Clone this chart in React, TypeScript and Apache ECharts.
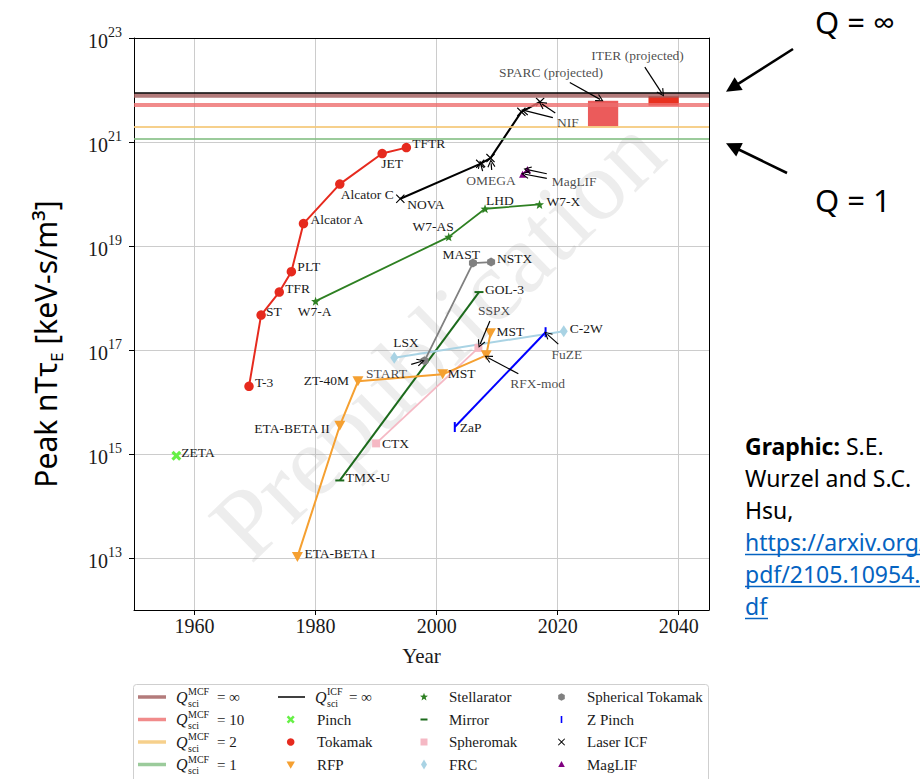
import React, { useEffect, useRef } from "react";
import * as echarts from "echarts";

const SERIF = "'Liberation Serif','DejaVu Serif',serif";
const SANS = "'Noto Sans','Open Sans',sans-serif";
const INK = "#1a1a1a";

// ---------------- data ----------------
const xTicks = [1960, 1980, 2000, 2020, 2040];
const yTicks = [1e13, 1e15, 1e17, 1e19, 1e21, 1e23];

const tokamakNames = ["T-3", "ST", "TFR", "PLT", "Alcator A", "Alcator C", "JET", "TFTR"];
const tokamakYears = [1969, 1971, 1974, 1976, 1978, 1984, 1991, 1995];
const tokamakValues = [2.0e16, 4.7e17, 1.3e18, 3.2e18, 2.7e19, 1.55e20, 6.0e20, 7.8e20];

const icfNames = ["NOVA", "", "", "", ""];
const icfYears = [1994, 2007.2, 2008.9, 2014, 2017.1];
const icfValues = [8.1e19, 3.8e20, 4.9e20, 3.8e21, 5.9e21];

const maglifNames = ["", ""];
const maglifYears = [2014.2, 2015];
const maglifValues = [2.4e20, 2.95e20];

const stellNames = ["W7-A", "W7-AS", "LHD", "W7-X"];
const stellYears = [1980, 2002, 2008, 2017];
const stellValues = [8.7e17, 1.5e19, 5.2e19, 6.3e19];

const sphTokNames = ["", "MAST", "NSTX"];
const sphTokYears = [1998, 2006, 2009];
const sphTokValues = [6.2e16, 4.7e18, 4.9e18];

const mirrorNames = ["TMX-U", "GOL-3"];
const mirrorYears = [1984, 2007];
const mirrorValues = [3.1e14, 1.3e18];

const spheromakNames = ["CTX", ""];
const spheromakYears = [1990, 2006.9];
const spheromakValues = [1.6e15, 1.1e17];

const frcNames = ["LSX", "C-2W"];
const frcYears = [1993, 2021];
const frcValues = [7.1e16, 2.3e17];

const zpinchNames = ["ZaP", ""];
const zpinchYears = [2003, 2018];
const zpinchValues = [3.3e15, 2.2e17];

const rfpNames = ["ETA-BETA I", "ETA-BETA II", "ZT-40M", "MST", "", "MST"];
const rfpYears = [1977, 1984, 1987, 2001, 2008.2, 2008.9];
const rfpValues = [1.05e13, 3.5e15, 2.5e16, 3.4e16, 7.9e16, 2.1e17];

const pinchNames = ["ZETA"];
const pinchYears = [1957];
const pinchValues = [9.3e14];

// reference lines (peak n T tau_E)
const qMcfLabels = ["= \u221E", "= 10", "= 2", "= 1"];
const qMcfValues = [8.1e21, 5.1e21, 2.0e21, 1.15e21];
const qIcfValue = 8.9e21;

// projected devices (year range, value range)
const projectedNames = ["SPARC", "ITER"];
const projectedYears = [[2025, 2030], [2035, 2040]];
const projectedValues = [[2.0e21, 6.2e21], [5.0e21, 7.6e21]];

// annotations with arrows
const annoTexts = ["ITER (projected)", "SPARC (projected)", "NIF", "OMEGA", "MagLIF", "SSPX", "RFX-mod", "FuZE", "START"];
const annoYears = [2033.2, 2018.9, 2019.9, 2009.0, 2019.0, 2009.5, 2016.7, 2021.5, 1995.1];
const annoValues = [4.7e22, 2.2e22, 2.4e21, 1.8e20, 1.75e20, 5.8e17, 2.3e16, 8.1e16, 3.6e16];
const arrowFrom = [
  [2034.4, 2.75e22], [2022.0, 1.4e22], [2019.2, 2.95e21], [2019.6, 3.6e21],
  [2007.6, 2.75e20], [2009.1, 2.9e20], [2018.2, 2.45e20], [2018.2, 2.0e20],
  [2008.8, 3.6e17], [2013.5, 3.5e16], [2020.1, 1.3e17], [1995.8, 5.3e16],
];
const arrowTo = [
  [2037.2, 8.7e21], [2027.0, 6.6e21], [2014.6, 4.0e21], [2017.4, 5.4e21],
  [2007.3, 3.7e20], [2009.0, 3.9e20], [2015.0, 2.95e20], [2014.6, 2.4e20],
  [2007.2, 1.3e17], [2008.5, 7.1e16], [2018.3, 2.0e17], [1997.4, 6.0e16],
];

// ---------------- label placement (style, not data) ----------------
type LP = [string, number, number] | null;
const tokamakLP: LP[] = [["left", 6, -4], ["left", 5, -4], ["left", 6, -4], ["left", 6, -5], ["left", 7, -4], ["left", 1, 10], ["left", -1, 10], ["left", 6, -4]];
const icfLP: LP[] = [["left", 7, 6], null, null, null, null];
const stellLP: LP[] = [["center", -1, 10], ["right", 5, -10], ["left", 1, -8], ["left", 7, -3]];
const sphTokLP: LP[] = [null, ["right", 7, -9], ["left", 6, -4]];
const mirrorLP: LP[] = [["left", 6, -3], ["left", 6, -3]];
const spheromakLP: LP[] = [["left", 6, 0], null];
const frcLP: LP[] = [["left", -1, -15], ["left", 6, -3]];
const zpinchLP: LP[] = [["left", 5, 0], null];
const rfpLP: LP[] = [["left", 7, -3], ["right", -10, 3], ["right", -9, -1], ["left", 5, -1], null, ["left", 6, -2]];
const pinchLP: LP[] = [["left", 5, -3]];
const annoAlign = ["center", "center", "left", "center", "left", "center", "center", "center", "right"];

// ---------------- marker shapes ----------------
const starPts = Array.from({ length: 10 }, (_, i) => {
  const r = i % 2 ? 0.42 : 1;
  const a = -Math.PI / 2 + (i * Math.PI) / 5;
  return [r * Math.cos(a), r * Math.sin(a)];
});
const hexPts = [[0, -1], [0.866, -0.5], [0.866, 0.5], [0, 1], [-0.866, 0.5], [-0.866, -0.5]];
const xThinPts = [[-1, -0.82], [-0.82, -1], [0, -0.18], [0.82, -1], [1, -0.82], [0.18, 0], [1, 0.82], [0.82, 1], [0, 0.18], [-0.82, 1], [-1, 0.82], [-0.18, 0]];
const xThickPts = [[-1, -0.55], [-0.55, -1], [0, -0.45], [0.55, -1], [1, -0.55], [0.45, 0], [1, 0.55], [0.55, 1], [0, 0.45], [-0.55, 1], [-1, 0.55], [-0.45, 0]];
const chevronPts = [[0, 0], [0.5, 0.9], [0.38, 0.97], [0, 0.26], [-0.38, 0.97], [-0.5, 0.9]];
const triUpPts = [[0, -1], [0.95, 0.7], [-0.95, 0.7]];
const triDownPts = [[-1, -0.7], [1, -0.7], [0, 1]];
const diamondPts = [[0, -1], [0.6, 0], [0, 1], [-0.6, 0]];

const toPath = (pts: number[][]) =>
  "path://" + pts.map((p, i) => (i ? "L" : "M") + p[0].toFixed(3) + "," + p[1].toFixed(3)).join(" ") + " Z";
const toPoly = (pts: number[][], cx: number, cy: number, s: number) => pts.map((p) => [cx + p[0] * s, cy + p[1] * s]);

const C = {
  tokamak: "#e62a1e",
  icf: "#000000",
  maglif: "#800080",
  stell: "#2e8022",
  sphTok: "#808080",
  mirror: "#1c6a1c",
  spheromak: "#f5b8c4",
  frc: "#a9d3e4",
  zpinch: "#0000ff",
  rfp: "#f5a031",
  pinch: "#66f046",
};

function mkLabel(text: string, lp: LP) {
  if (!text || !lp) return { show: false };
  return {
    show: true,
    formatter: text,
    position: "inside",
    align: lp[0],
    verticalAlign: "middle",
    offset: [lp[1], lp[2]],
    color: INK,
    fontFamily: SERIF,
    fontSize: 13.5,
  };
}

function dataSeries(name: string, years: number[], values: number[], labels: string[], lps: LP[], st: any) {
  return {
    type: "line",
    name,
    data: years.map((yr, i) => ({ value: [yr, values[i]], label: mkLabel(labels[i], lps[i]) })),
    symbol: st.symbol,
    symbolSize: st.size,
    symbolRotate: st.rotate || 0,
    showSymbol: true,
    showAllSymbol: true,
    itemStyle: { color: st.color, opacity: 1 },
    lineStyle: { color: st.color, width: st.width ?? 1.8 },
    emphasis: { disabled: true },
    silent: true,
    clip: false,
    z: st.z ?? 3,
  };
}

function buildOption() {
  const series: any[] = [];

  const qColors = ["rgba(160,90,90,0.8)", "rgba(238,110,110,0.8)", "rgba(245,200,120,0.85)", "rgba(130,190,130,0.8)"];
  const qWidths = [4.5, 4, 2, 2];
  series.push({
    type: "line",
    name: "reference",
    data: [[1950, 1e12]],
    symbol: "none",
    lineStyle: { width: 0 },
    silent: true,
    z: 1,
    markLine: {
      silent: true,
      symbol: ["none", "none"],
      label: { show: false },
      data: [
        ...qMcfValues.map((v, i) => ({ yAxis: v, lineStyle: { color: qColors[i], width: qWidths[i], type: "solid" } })),
        { yAxis: qIcfValue, lineStyle: { color: "#000", width: 1.5, type: "solid" } },
      ],
    },
    markArea: {
      silent: true,
      data: projectedNames.map((_, i) => [
        {
          coord: [projectedYears[i][0], projectedValues[i][0]],
          itemStyle: { color: i === 0 ? "rgba(230,45,45,0.78)" : "#e8311f", borderWidth: 0 },
        },
        { coord: [projectedYears[i][1], projectedValues[i][1]] },
      ]),
    },
  });

  series.push(dataSeries("Pinch", pinchYears, pinchValues, pinchNames, pinchLP, { symbol: toPath(xThickPts), size: 10, color: C.pinch }));
  series.push(dataSeries("Mirror", mirrorYears, mirrorValues, mirrorNames, mirrorLP, { symbol: "rect", size: [9, 2], color: C.mirror, width: 2 }));
  series.push(dataSeries("Spheromak", spheromakYears, spheromakValues, spheromakNames, spheromakLP, { symbol: "rect", size: 8, color: C.spheromak }));
  series.push(dataSeries("FRC", frcYears, frcValues, frcNames, frcLP, { symbol: toPath(diamondPts), size: [8, 12], color: C.frc, width: 2 }));
  series.push(dataSeries("Spherical Tokamak", sphTokYears, sphTokValues, sphTokNames, sphTokLP, { symbol: toPath(hexPts), size: [8, 9], color: C.sphTok }));
  series.push(dataSeries("Z Pinch", zpinchYears, zpinchValues, zpinchNames, zpinchLP, { symbol: "rect", size: [2, 10], color: C.zpinch, width: 2 }));
  series.push(dataSeries("RFP", rfpYears, rfpValues, rfpNames, rfpLP, { symbol: toPath(triDownPts), size: [11, 10], color: C.rfp, width: 2 }));
  series.push(dataSeries("Stellarator", stellYears, stellValues, stellNames, stellLP, { symbol: toPath(starPts), size: 9, color: C.stell }));
  series.push(dataSeries("Tokamak", tokamakYears, tokamakValues, tokamakNames, tokamakLP, { symbol: "circle", size: 9.5, color: C.tokamak, width: 2 }));
  series.push(dataSeries("Laser ICF", icfYears, icfValues, icfNames, icfLP, { symbol: toPath(xThinPts), size: 9, color: C.icf, width: 2 }));
  series.push(dataSeries("MagLIF", maglifYears, maglifValues, maglifNames, [null, null], { symbol: toPath(triUpPts), size: 7, color: C.maglif, width: 1.5 }));

  series.push({
    type: "scatter",
    name: "annotations",
    data: annoTexts.map((t, i) => ({
      value: [annoYears[i], annoValues[i]],
      label: {
        show: true,
        formatter: t,
        position: "inside",
        align: annoAlign[i],
        verticalAlign: "middle",
        color: INK,
        fontFamily: SERIF,
        fontSize: 13.5,
      },
    })),
    symbol: "circle",
    symbolSize: 1,
    itemStyle: { color: "rgba(0,0,0,0)" },
    silent: true,
    z: 6,
    markLine: {
      silent: true,
      symbol: ["none", toPath(chevronPts)],
      symbolSize: 8,
      label: { show: false },
      lineStyle: { color: "#000", width: 1.2, type: "solid" },
      data: arrowFrom.map((f, i) => [{ coord: f }, { coord: arrowTo[i] }]),
    },
  });

  // ---------------- graphic (watermark, titles, legend, slide notes) ----------------
  const el: any[] = [];
  el.push({
    type: "text",
    x: 437,
    y: 338,
    rotation: 0.77,
    z: 1,
    silent: true,
    style: { text: "Prepublication", fontFamily: SERIF, fontSize: 100, fill: "rgba(150,150,150,0.17)", align: "center", verticalAlign: "middle" },
  });
  el.push({
    type: "text",
    x: 45,
    y: 344,
    rotation: Math.PI / 2,
    style: {
      text: "{a|Peak nT\u03C4}{e|E}{a| [keV-s/m\u00B3]}",
      align: "center",
      verticalAlign: "middle",
      rich: {
        a: { fontFamily: SANS, fontSize: 30, fill: "#000", lineHeight: 40, verticalAlign: "middle" },
        e: { fontFamily: SANS, fontSize: 17, fill: "#000", lineHeight: 22, verticalAlign: "bottom" },
      },
    },
  });

  // legend
  const rows = [697, 719.5, 742, 764.5];
  el.push({ type: "rect", z: 10, shape: { x: 133.5, y: 684.5, width: 575, height: 110, r: 3 }, style: { fill: "#fff", stroke: "#cfcfcf", lineWidth: 1 } });
  const qLegColors = ["rgba(160,90,90,0.8)", "rgba(238,110,110,0.8)", "rgba(245,200,120,0.85)", "rgba(130,190,130,0.8)"];
  const qText = (x: number, y: number, sup: string, rhs: string, rhsX: number) => [
    { type: "text", z: 11, x, y, style: { text: "Q", fontFamily: SERIF, fontStyle: "italic", fontSize: 16, fill: INK, verticalAlign: "middle" } },
    { type: "text", z: 11, x: x + 12, y: y - 5.5, style: { text: sup, fontFamily: SERIF, fontSize: 10, fill: INK, verticalAlign: "middle" } },
    { type: "text", z: 11, x: x + 12, y: y + 6, style: { text: "sci", fontFamily: SERIF, fontSize: 10, fill: INK, verticalAlign: "middle" } },
    { type: "text", z: 11, x: rhsX, y, style: { text: rhs, fontFamily: SERIF, fontSize: 15, fill: INK, verticalAlign: "middle" } },
  ];
  qMcfLabels.forEach((lab, i) => {
    el.push({ type: "line", z: 11, shape: { x1: 138, y1: rows[i], x2: 166, y2: rows[i] }, style: { stroke: qLegColors[i], lineWidth: 3.5 } });
    el.push(...qText(176, rows[i], "MCF", lab, 217));
  });
  el.push({ type: "line", z: 11, shape: { x1: 278, y1: rows[0], x2: 305, y2: rows[0] }, style: { stroke: "#000", lineWidth: 1.5 } });
  el.push(...qText(315, rows[0], "ICF", "= \u221E", 349));

  const legMarker = (kind: string, cx: number, cy: number, color: string) => {
    switch (kind) {
      case "circle":
        return { type: "circle", z: 11, shape: { cx, cy, r: 3.8 }, style: { fill: color } };
      case "rect":
        return { type: "rect", z: 11, shape: { x: cx - 3.5, y: cy - 3.5, width: 7, height: 7 }, style: { fill: color } };
      case "dash":
        return { type: "rect", z: 11, shape: { x: cx - 3.5, y: cy - 1, width: 7, height: 2 }, style: { fill: color } };
      case "bar":
        return { type: "rect", z: 11, shape: { x: cx - 0.8, y: cy - 3.5, width: 1.6, height: 7 }, style: { fill: color } };
      default: {
        const m: any = { star: [starPts, 4.2], hex: [hexPts, 3.8], xthin: [xThinPts, 3.6], xthick: [xThickPts, 4], tridown: [triDownPts, 4.2], triup: [triUpPts, 3.5], diamond: [diamondPts, 5] };
        const [pts, s] = m[kind];
        return { type: "polygon", z: 11, shape: { points: toPoly(pts, cx, cy, s) }, style: { fill: color } };
      }
    }
  };
  const legendCols = [
    { mx: 290.7, tx: 317, items: [["Pinch", "xthick", C.pinch], ["Tokamak", "circle", C.tokamak], ["RFP", "tridown", C.rfp]], start: 1 },
    { mx: 424, tx: 449, items: [["Stellarator", "star", C.stell], ["Mirror", "dash", C.mirror], ["Spheromak", "rect", C.spheromak], ["FRC", "diamond", C.frc]], start: 0 },
    { mx: 561.5, tx: 587, items: [["Spherical Tokamak", "hex", C.sphTok], ["Z Pinch", "bar", C.zpinch], ["Laser ICF", "xthin", C.icf], ["MagLIF", "triup", C.maglif]], start: 0 },
  ];
  legendCols.forEach((col) => {
    col.items.forEach((it, j) => {
      const y = rows[col.start + j];
      el.push(legMarker(it[1], col.mx, y, it[2]));
      el.push({ type: "text", z: 11, x: col.tx, y, style: { text: it[0], fontFamily: SERIF, fontSize: 15, fill: INK, verticalAlign: "middle" } });
    });
  });

  // slide notes on the right
  const bigArrow = (x1: number, y1: number, x2: number, y2: number) => {
    const dx = x2 - x1, dy = y2 - y1, L = Math.hypot(dx, dy);
    const ux = dx / L, uy = dy / L, len = 15, hw = 7.5;
    const bx = x2 - ux * len, by = y2 - uy * len;
    return [
      { type: "line", shape: { x1, y1, x2: bx + ux * 2, y2: by + uy * 2 }, style: { stroke: "#000", lineWidth: 2.6 } },
      { type: "polygon", shape: { points: [[x2, y2], [bx - uy * hw, by + ux * hw], [bx + uy * hw, by - ux * hw]] }, style: { fill: "#000" } },
    ];
  };
  el.push({ type: "text", x: 815, y: 22, style: { text: "Q = \u221E", fontFamily: SANS, fontSize: 31, fill: "#000", verticalAlign: "middle" } });
  el.push({ type: "text", x: 815, y: 200, style: { text: "Q = 1", fontFamily: SANS, fontSize: 31, fill: "#000", verticalAlign: "middle" } });
  el.push(...bigArrow(793, 49, 726, 91.7));
  el.push(...bigArrow(787, 173, 726, 143.3));

  const noteX = 745;
  const noteY = [446, 478, 510, 542, 574, 606];
  el.push({
    type: "text",
    x: noteX,
    y: noteY[0],
    style: {
      text: "{b|Graphic:}{n| S.E.}",
      verticalAlign: "middle",
      rich: {
        b: { fontFamily: SANS, fontSize: 23, fontWeight: "bold", fill: "#000" },
        n: { fontFamily: SANS, fontSize: 23, fill: "#000" },
      },
    },
  });
  const plain = ["Wurzel and S.C.", "Hsu,"];
  plain.forEach((t, i) => el.push({ type: "text", x: noteX, y: noteY[1 + i], style: { text: t, fontFamily: SANS, fontSize: 23, fill: "#000", verticalAlign: "middle" } }));
  const link = ["https://arxiv.org/", "pdf/2105.10954.p", "df"];
  const linkEnds = [940, 940, 768];
  link.forEach((t, i) => {
    el.push({ type: "text", x: noteX, y: noteY[3 + i], style: { text: t, fontFamily: SANS, fontSize: 23, fill: "#0563c1", verticalAlign: "middle" } });
    el.push({ type: "line", shape: { x1: noteX, y1: noteY[3 + i] + 12.5, x2: linkEnds[i], y2: noteY[3 + i] + 12.5 }, style: { stroke: "#0563c1", lineWidth: 1.5 } });
  });

  const axisLineStyle = { show: true, onZero: false, lineStyle: { color: "#000", width: 1 } };
  const yMax = 1.000001e23;
  return {
    animation: false,
    backgroundColor: "#ffffff",
    grid: { left: 134, top: 38, right: 211, bottom: 169, containLabel: false },
    xAxis: [
      {
        type: "value",
        min: 1950,
        max: 2045,
        position: "bottom",
        axisLine: axisLineStyle,
        axisTick: { show: true, customValues: xTicks, length: 5, lineStyle: { color: "#000" } },
        axisLabel: { show: true, customValues: xTicks, margin: 6, color: INK, fontFamily: SERIF, fontSize: 20, formatter: (v: number) => String(Math.round(v)) },
        splitLine: { show: true, lineStyle: { color: "#cccccc", width: 1 } },
        name: "Year",
        nameLocation: "middle",
        nameGap: 35,
        nameTextStyle: { fontFamily: SERIF, fontSize: 21, color: INK },
      },
      {
        type: "value",
        min: 1950,
        max: 2045,
        position: "top",
        axisLine: axisLineStyle,
        axisTick: { show: false },
        axisLabel: { show: false },
        splitLine: { show: false },
      },
    ],
    yAxis: [
      {
        type: "log",
        logBase: 10,
        min: 1e12,
        max: yMax,
        position: "left",
        axisLine: axisLineStyle,
        axisTick: { show: true, customValues: yTicks, length: 5, lineStyle: { color: "#000" } },
        axisLabel: {
          show: true,
          showMaxLabel: true,
          customValues: yTicks,
          margin: 12,
          formatter: (v: number) => `{b|10}{s|${Math.round(Math.log10(v))}}`,
          rich: {
            b: { fontFamily: SERIF, fontSize: 20, color: INK, lineHeight: 26, verticalAlign: "bottom" },
            s: { fontFamily: SERIF, fontSize: 14, color: INK, lineHeight: 14, verticalAlign: "top" },
          },
        },
        splitLine: { show: true, lineStyle: { color: "#cccccc", width: 1 } },
      },
      {
        type: "log",
        logBase: 10,
        min: 1e12,
        max: yMax,
        position: "right",
        axisLine: axisLineStyle,
        axisTick: { show: false },
        axisLabel: { show: false },
        splitLine: { show: false },
      },
    ],
    series,
    graphic: { elements: el },
  };
}

export default function App() {
  const ref = useRef<HTMLDivElement>(null);
  useEffect(() => {
    if (!ref.current) return;
    const chart = echarts.init(ref.current, null, { renderer: "svg" });
    chart.setOption(buildOption() as any);
    return () => chart.dispose();
  }, []);
  return (
    <div
      ref={ref}
      style={{ position: "absolute", left: 0, top: 0, width: 920, height: 779, background: "#fff", overflow: "hidden" }}
    />
  );
}
